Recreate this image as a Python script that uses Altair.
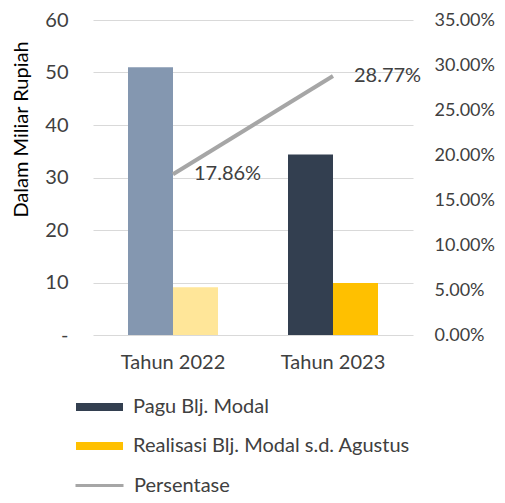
import altair as alt
import pandas as pd

categories = ["Tahun 2022", "Tahun 2023"]
pagu = [51.0, 34.4]
realisasi = [9.1, 9.9]
persentase = [0.1786, 0.2877]
series_names = ["Pagu Blj. Modal", "Realisasi Blj. Modal s.d. Agustus"]
line_name = "Persentase"
colors_2023 = ["#333F50", "#FFC000"]
colors_2022 = ["#8497B0", "#FFE699"]
left_ticks = [0, 10, 20, 30, 40, 50, 60]
right_ticks = [0, 0.05, 0.1, 0.15, 0.2, 0.25, 0.3, 0.35]

rows = []
for i, c in enumerate(categories):
    for s, vals in zip(series_names, [pagu, realisasi]):
        key = s if i == 1 else s + " (2022)"
        rows.append({"cat": c, "series": s, "key": key, "value": vals[i]})
bars_df = pd.DataFrame(rows)
line_df = pd.DataFrame({"cat": categories, "pct": persentase, "name": line_name})

FONT = "Lato"
TXT = "#404040"
FS = 20

x_enc = alt.X(
    "cat:N", sort=categories,
    scale=alt.Scale(paddingInner=0.4375, paddingOuter=0.21875),
    axis=alt.Axis(title=None, labelAngle=0, ticks=False, domain=False,
                  labelPadding=17, labelFontSize=FS, labelColor=TXT, labelFont=FONT),
)

bars = alt.Chart(bars_df).mark_bar().encode(
    x=x_enc,
    xOffset=alt.XOffset("series:N", sort=series_names),
    y=alt.Y(
        "value:Q", scale=alt.Scale(domain=[0, 60]),
        axis=alt.Axis(
            values=left_ticks, title="Dalam Miliar Rupiah",
            labelExpr="datum.value == 0 ? '-' : datum.label",
            grid=True, gridColor="#D9D9D9", ticks=False, domain=False,
            labelPadding=25, labelFontSize=FS, labelColor=TXT, labelFont=FONT,
            titleFont=FONT, titleFontSize=20, titleFontWeight="normal", titleColor="#000000",
            titleX=-72, titleY=109, titleAngle=270, titleAlign="center", titleBaseline="middle",
        ),
    ),
    color=alt.Color(
        "key:N",
        scale=alt.Scale(domain=series_names + [s + " (2022)" for s in series_names],
                        range=colors_2023 + colors_2022),
        legend=alt.Legend(
            values=series_names, orient="none", legendX=-3.5, legendY=377, title=None,
            symbolType="M-5.875,-1H5.875V1H-5.875Z", symbolSize=64, symbolStrokeWidth=0,
            labelOffset=23.5, rowPadding=19, labelFontSize=FS, labelFont=FONT,
            labelColor=TXT, padding=0, direction="vertical", labelLimit=0,
        ),
    ),
)

line = alt.Chart(line_df).mark_line(strokeWidth=4).encode(
    x=alt.X("cat:N", sort=categories),
    y=alt.Y(
        "pct:Q", scale=alt.Scale(domain=[0, 0.35]),
        axis=alt.Axis(orient="right", format=".2%", values=right_ticks, grid=False,
                      ticks=False, domain=False, labelPadding=21, title=None,
                      labelFontSize=18, labelColor=TXT, labelFont=FONT),
    ),
    stroke=alt.Stroke(
        "name:N", scale=alt.Scale(domain=[line_name], range=["#A6A6A6"]),
        legend=alt.Legend(
            orient="none", legendX=-19, legendY=440, title=None,
            symbolType="stroke", symbolSize=2304, symbolStrokeWidth=3,
            labelOffset=9, labelFontSize=FS, labelFont=FONT, labelColor=TXT, padding=0,
            labelLimit=0,
        ),
    ),
)

labels = alt.Chart(line_df).mark_text(
    align="left", baseline="middle", dx=21, fontSize=FS, font=FONT, color=TXT
).encode(
    x=alt.X("cat:N", sort=categories),
    y=alt.Y("pct:Q"),
    text=alt.Text("pct:Q", format=".2%"),
)

chart = alt.layer(bars, alt.layer(line, labels)).resolve_scale(
    y="independent"
).properties(
    width=320, height=315,
    padding={"left": 85, "top": 12, "right": 84, "bottom": 159},
    autosize=alt.AutoSizeParams(type="none"),
    background="#FFFFFF",
).configure_view(stroke=None)

chart.save("out.html", embed_options={"renderer": "svg", "actions": False})
